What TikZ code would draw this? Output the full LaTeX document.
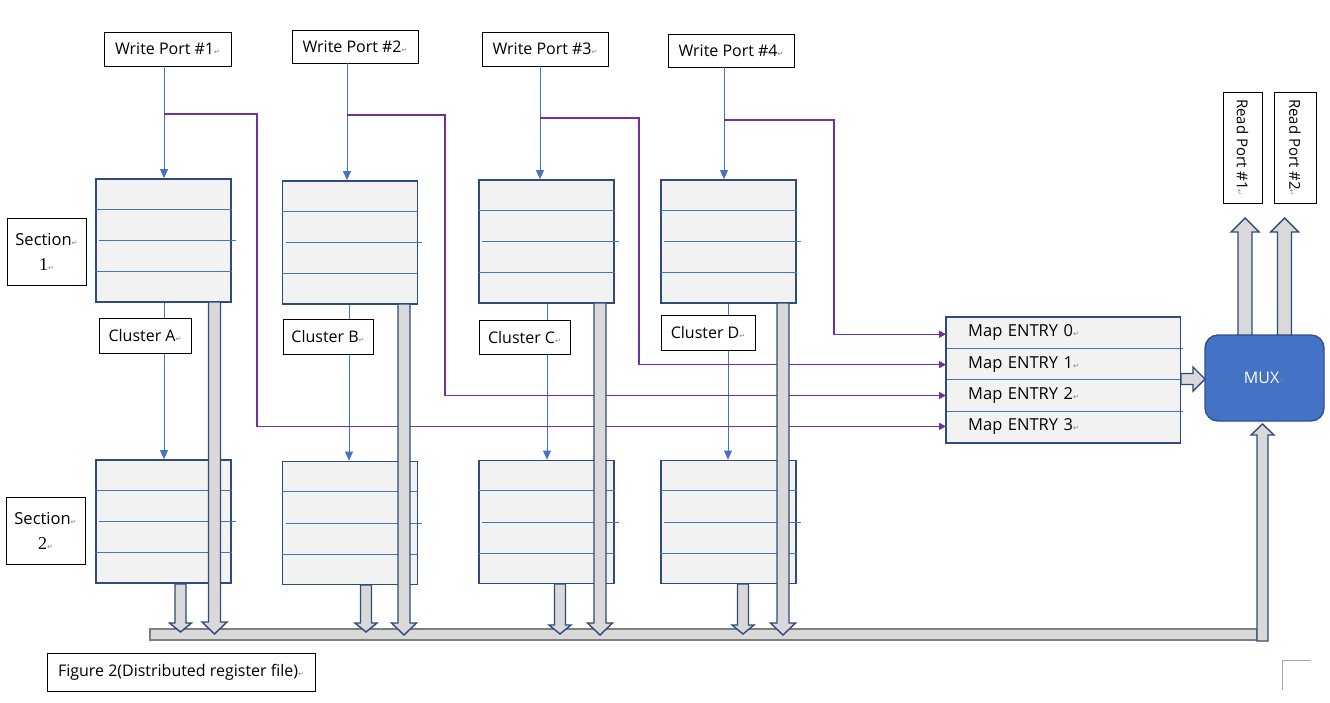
\documentclass[tikz,border=0pt]{standalone}
\usepackage{fontspec}
\setmainfont{Open Sans}
\newfontfamily\symfont{DejaVu Sans}
\newfontfamily\seriffam{Liberation Serif}
\usetikzlibrary{arrows.meta,calc}
\definecolor{cborder}{HTML}{2F4B7C}
\definecolor{cfill}{HTML}{F2F2F2}
\definecolor{cline}{HTML}{4472C4}
\definecolor{cpurple}{HTML}{7030A0}
\definecolor{cblock}{HTML}{D9D9D9}
\definecolor{cbus}{HTML}{7F7F7F}
\definecolor{cmux}{HTML}{4472C4}
\definecolor{cmuxb}{HTML}{2F528F}
\newcommand{\parmark}{{\symfont\color{gray}\fontsize{7}{7}\selectfont ↵}}
\newcommand{\clusterbox}[3]{%
  \node[cluster] (#1) at (#2,#3) {};
  \draw[innerline] ($(#1.north west)!0.25!(#1.south west)$) -- ($(#1.north east)!0.25!(#1.south east)$);
  \draw[innerline] ([xshift=4pt]#1.west) -- ([xshift=4pt]#1.east);
  \draw[innerline] ($(#1.north west)!0.75!(#1.south west)$) -- ($(#1.north east)!0.75!(#1.south east)$);
}
% x, ystart, ytip, shaft half, head half, head length
\newcommand{\downblock}[6]{%
  \draw[block] (#1-#4,#2) -- (#1-#4,#3-#6) -- (#1-#5,#3-#6) -- (#1,#3) -- (#1+#5,#3-#6) -- (#1+#4,#3-#6) -- (#1+#4,#2) -- cycle;}
\newcommand{\upblock}[6]{%
  \draw[block] (#1-#4,#2) -- (#1-#4,#3+#6) -- (#1-#5,#3+#6) -- (#1,#3) -- (#1+#5,#3+#6) -- (#1+#4,#3+#6) -- (#1+#4,#2) -- cycle;}
\tikzset{
  lbl/.style={draw=black, line width=0.9pt, fill=white, inner sep=0pt, font=\fontsize{16}{18}\selectfont},
  cluster/.style={draw=cborder, line width=1.8pt, fill=cfill, minimum width=135pt, minimum height=123pt, inner sep=0pt},
  innerline/.style={draw=cline, line width=0.8pt},
  bluearr/.style={draw=cline, line width=0.9pt, -{Triangle[width=8pt,length=9pt]}},
  purp/.style={draw=cpurple, line width=1.4pt, -{Triangle[width=7pt,length=7pt]}},
  block/.style={draw=cborder, fill=cblock, line width=1.4pt, line join=miter},
  entry/.style={fill=cfill, minimum height=31pt, text width=190pt, inner xsep=22pt, inner ysep=0pt, align=left, font=\fontsize{16.5}{18}\selectfont},
}
\begin{document}
\begin{tikzpicture}[x=1pt,y=-1pt]
\useasboundingbox (0,0) rectangle (1330,702);
% write ports
\node[lbl, minimum width=127pt, minimum height=34pt] (WP1) at (167.5,49) {Write Port \#1\parmark};
\node[lbl, minimum width=126pt, minimum height=33pt] (WP2) at (355,46.5) {Write Port \#2\parmark};
\node[lbl, minimum width=126pt, minimum height=34pt] (WP3) at (545,49) {Write Port \#3\parmark};
\node[lbl, minimum width=126pt, minimum height=33pt] (WP4) at (731,50.5) {Write Port \#4\parmark};
% sections
\node[lbl, minimum width=79pt, minimum height=67pt, align=center, font=\fontsize{16.5}{25}\selectfont] (S1) at (46.5,251.5) {Section\parmark\\{\seriffam\fontsize{18}{25}\selectfont 1}\parmark};
\node[lbl, minimum width=79pt, minimum height=67pt, align=center, font=\fontsize{16.5}{25}\selectfont] (S2) at (45.5,530.5) {Section\parmark\\{\seriffam\fontsize{18}{25}\selectfont 2}\parmark};
% clusters
\clusterbox{A1}{163.5}{240.5}
\clusterbox{B1}{350}{242.5}
\clusterbox{C1}{546.5}{241.5}
\clusterbox{D1}{728.5}{241.5}
\clusterbox{A2}{163.5}{521.5}
\clusterbox{B2}{350}{523}
\clusterbox{C2}{546.5}{522}
\clusterbox{D2}{728.5}{522}
% write port arrows
\draw[bluearr] ([xshift=0.5pt]A1.north |- WP1.south) -- ([xshift=0.5pt]A1.north);
\draw[bluearr] ([xshift=-3pt]B1.north |- WP2.south) -- ([xshift=-3pt]B1.north);
\draw[bluearr] ([xshift=-6.5pt]C1.north |- WP3.south) -- ([xshift=-6.5pt]C1.north);
\draw[bluearr] ([xshift=-4.5pt]D1.north |- WP4.south) -- ([xshift=-4.5pt]D1.north);
% section1 -> section2 arrows
\draw[bluearr] ([xshift=0.5pt]A1.south) -- ([xshift=0.5pt]A2.north);
\draw[bluearr] ([xshift=-1pt]B1.south) -- ([xshift=-1pt]B2.north);
\draw[bluearr] ([xshift=0.5pt]C1.south) -- ([xshift=0.5pt]C2.north);
\draw[bluearr] ([xshift=-0.5pt]D1.south) -- ([xshift=-0.5pt]D2.north);
% cluster labels
\node[lbl, minimum width=92pt, minimum height=35pt] (LA) at (145,335.5) {Cluster A\parmark};
\node[lbl, minimum width=90pt, minimum height=35pt] (LB) at (328,336.5) {Cluster B\parmark};
\node[lbl, minimum width=91pt, minimum height=34pt] (LC) at (524.5,337) {Cluster C\parmark};
\node[lbl, minimum width=94pt, minimum height=35pt] (LD) at (708,332.5) {Cluster D\parmark};
% map entries
\node[entry, anchor=north west] (E0) at (946,317) {Map ENTRY 0\parmark};
\node[entry, anchor=north] (E1) at (E0.south) {Map ENTRY 1\parmark};
\node[entry, anchor=north] (E2) at (E1.south) {Map ENTRY 2\parmark};
\node[entry, anchor=north] (E3) at (E2.south) {Map ENTRY 3\parmark};
\draw[innerline] (E0.south west) -- ([xshift=3pt]E0.south east);
\draw[innerline] (E1.south west) -- ([xshift=3pt]E1.south east);
\draw[innerline] (E2.south west) -- ([xshift=3pt]E2.south east);
\draw[draw=cborder, line width=1.8pt] (E0.north west) rectangle (E3.south east);
% purple connectors
\coordinate (p1) at (164,114);
\coordinate (p2) at (347,115);
\coordinate (p3) at (540,118);
\coordinate (p4) at (724,120);
\draw[purp] (p1) -- ++(93,0) |- ([yshift=0.5pt]E3.west);
\draw[purp] (p2) -- ++(98,0) |- (E2.west);
\draw[purp] (p3) -- ++(99,0) |- ([yshift=-0.5pt]E1.west);
\draw[purp] (p4) -- ++(110,0) |- ([yshift=-1.5pt]E0.west);
% MUX
\node[draw=cmuxb, line width=1.4pt, fill=cmux, rounded corners=13pt, minimum width=119pt, minimum height=86pt, text=white, font=\fontsize{16}{18}\selectfont] (MUX) at (1264.5,378) {MUX\parmark};
% read ports
\node[lbl, rotate=-90, minimum width=111pt, minimum height=39pt, font=\fontsize{15}{16}\selectfont] (RP1) at (1242.5,147.5) {Read Port \#1\parmark};
\node[lbl, rotate=-90, minimum width=111pt, minimum height=42pt, font=\fontsize{15}{16}\selectfont] (RP2) at (1295,147.5) {Read Port \#2\parmark};
% bus
\draw[draw=cbus, fill=cblock, line width=1.8pt] (150,629) rectangle (1257,640);
% block arrows down to bus
\downblock{214.5}{302}{634}{6}{12.5}{12}
\downblock{404}{304}{635}{6}{12.5}{12}
\downblock{600}{303}{635}{6}{12.5}{12}
\downblock{783}{303}{635}{6}{12.5}{12}
\downblock{180.5}{584}{632}{5.5}{11}{9}
\downblock{366}{585}{632}{5.5}{11}{9}
\downblock{560}{584}{634}{5.5}{11}{9}
\downblock{743}{584}{634}{5.5}{11}{9}
% bus up to MUX
\upblock{1262.5}{641}{424}{5.5}{11.5}{11}
% MUX up to read ports
\upblock{1245}{335}{218}{7}{14}{14}
\upblock{1284.5}{335}{218}{7}{14}{14}
% map to MUX
\draw[block] (1181,373.5) -- (1193,373.5) -- (1193,367) -- (1205,379) -- (1193,391) -- (1193,384.5) -- (1181,384.5) -- cycle;
% caption
\node[lbl, minimum width=268pt, minimum height=38pt, font=\fontsize{16}{18}\selectfont] (CAP) at (181,672) {Figure 2(Distributed register file)\parmark};
% corner mark
\coordinate (k1) at (1282,690);
\coordinate (k2) at (1282,660);
\coordinate (k3) at (1311,660);
\draw[gray!70, line width=0.8pt] (k1) -- (k2) -- (k3);
\end{tikzpicture}
\end{document}
